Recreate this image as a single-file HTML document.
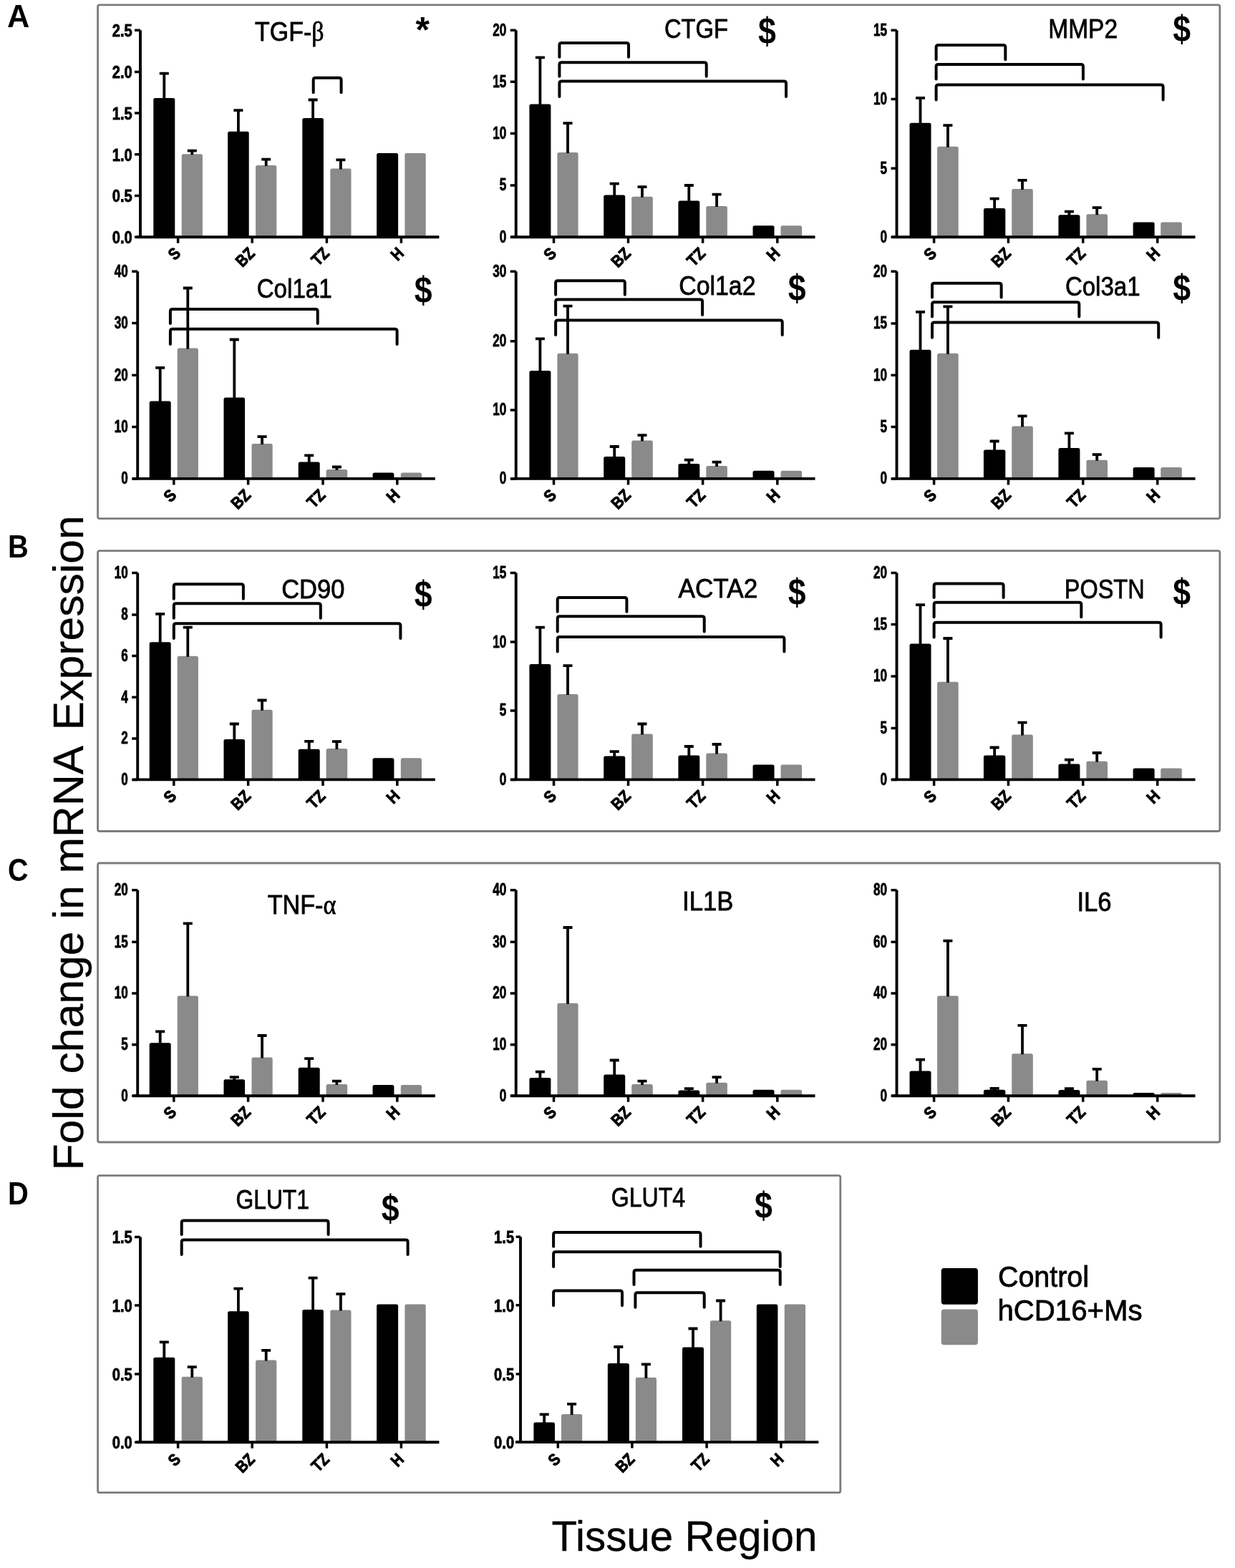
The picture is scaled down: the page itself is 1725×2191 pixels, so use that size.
<!DOCTYPE html>
<html lang="en">
<head>
<meta charset="utf-8">
<title>Fold change in mRNA Expression by Tissue Region</title>
<style>
html,body{margin:0;padding:0;background:#fff}
body{width:1725px;height:2191px;overflow:hidden}
svg{display:block;filter:blur(.55px);font-family:"Liberation Sans","DejaVu Sans",sans-serif}
.a{fill:none;stroke:#000;stroke-width:3.9;stroke-linecap:butt}
.k{fill:none;stroke:#000;stroke-width:3.5}
.e{fill:none;stroke:#000;stroke-width:3.8}
.b{fill:none;stroke:#000;stroke-width:4;stroke-linecap:round}
.p{fill:none;stroke:#7c7c7c;stroke-width:2.8}
.gr{font-family:"Liberation Serif","DejaVu Serif",serif}
.t{font-weight:700;text-anchor:end;fill:#000;stroke:#000;stroke-width:.8px}
.x{font-weight:700;font-size:23px;text-anchor:end;fill:#000;stroke:#000;stroke-width:1px}
.h{fill:#000;stroke:#000;stroke-width:.8px}
.s{font-weight:700;text-anchor:middle;fill:#000}
.B{fill:#000;stroke:#000;stroke-width:.3px}
.L{font-weight:700;font-size:44.3px;fill:#000}
</style>
</head>
<body>
<svg width="1725" height="2191" viewBox="0 0 1725 2191">
<rect width="1725" height="2191" fill="#fff"/>
<rect x="136.6" y="6.8" width="1567.2" height="717.8" rx="2.5" class="p"/><rect x="136.6" y="769.6" width="1567.2" height="391.9" rx="2.5" class="p"/><rect x="136.6" y="1206" width="1567.2" height="390" rx="2.5" class="p"/><rect x="136.6" y="1642.7" width="1037.2" height="443" rx="2.5" class="p"/>
<text transform="translate(10.0 38.4) scale(0.98 1)" class="L">A</text><text transform="translate(11.0 779) scale(0.9 1)" class="L">B</text><text transform="translate(10.9 1230.8) scale(0.89 1)" class="L">C</text><text transform="translate(10.9 1683) scale(0.9 1)" class="L">D</text>
<g><path d="M214.3 331.2V139.4Q214.3 136.9 216.8 136.9H241.8Q244.3 136.9 244.3 139.4V331.2Z" fill="#000"/><path d="M229.3 137.9V102.7M222.8 102.7H235.8" class="e"/><path d="M253.7 331.2V217.7Q253.7 215.2 256.2 215.2H280.4Q282.9 215.2 282.9 217.7V331.2Z" fill="#8a8a8a"/><path d="M268.3 216.2V210.7M261.8 210.7H274.8" class="e"/><path d="M318.1 331.2V186.3Q318.1 183.8 320.6 183.8H345.2Q347.7 183.8 347.7 186.3V331.2Z" fill="#000"/><path d="M332.9 184.8V154.1M326.4 154.1H339.4" class="e"/><path d="M357.1 331.2V233.5Q357.1 231 359.6 231H383.8Q386.3 231 386.3 233.5V331.2Z" fill="#8a8a8a"/><path d="M371.7 232V222.7M365.2 222.7H378.2" class="e"/><path d="M422.3 331.2V167.5Q422.3 165 424.8 165H449.4Q451.9 165 451.9 167.5V331.2Z" fill="#000"/><path d="M437.1 166V139.5M430.6 139.5H443.6" class="e"/><path d="M461.3 331.2V238Q461.3 235.5 463.8 235.5H488Q490.5 235.5 490.5 238V331.2Z" fill="#8a8a8a"/><path d="M475.9 236.5V223.4M469.4 223.4H482.4" class="e"/><path d="M526.1 331.2V216.6Q526.1 214.1 528.6 214.1H553.6Q556.1 214.1 556.1 216.6V331.2Z" fill="#000"/><path d="M565.4 331.2V216.6Q565.4 214.1 567.9 214.1H592.2Q594.7 214.1 594.7 216.6V331.2Z" fill="#8a8a8a"/><path d="M196 42.3V331.2M190.4 331.2H613.4" class="a"/><text transform="translate(184.8 51.2) scale(0.875 1)" class="t" font-size="23">2.5</text><text transform="translate(184.8 109.3) scale(0.875 1)" class="t" font-size="23">2.0</text><text transform="translate(184.8 167) scale(0.875 1)" class="t" font-size="23">1.5</text><text transform="translate(184.8 224.7) scale(0.875 1)" class="t" font-size="23">1.0</text><text transform="translate(184.8 282.4) scale(0.875 1)" class="t" font-size="23">0.5</text><text transform="translate(184.8 340.1) scale(0.875 1)" class="t" font-size="23">0.0</text><path d="M188 42.3H196M188 100.4H196M188 158.1H196M188 215.8H196M188 273.5H196M188 331.2H196" class="k"/><text transform="translate(253.6 355.5) rotate(-45) scale(0.86 1)" class="x">S</text><text transform="translate(357.2 355.5) rotate(-45) scale(0.86 1)" class="x">BZ</text><text transform="translate(461.4 355.5) rotate(-45) scale(0.86 1)" class="x">TZ</text><text transform="translate(565.4 355.5) rotate(-45) scale(0.86 1)" class="x">H</text><path d="M248.6 331.2V339.7M352.2 331.2V339.7M456.4 331.2V339.7M560.4 331.2V339.7" class="k"/><path d="M437.7 129.3V111.7Q437.7 108.7 440.7 108.7H473.6Q476.6 108.7 476.6 111.7V129.3" class="b"/><text x="356.1" y="57.3" class="h" font-size="37.5" textLength="96.4" lengthAdjust="spacingAndGlyphs">TGF-<tspan class="gr">β</tspan></text><text x="590.2" y="58.5" class="s" font-size="50">*</text></g>
<g><path d="M739.4 331.2V148Q739.4 145.5 741.9 145.5H766.9Q769.4 145.5 769.4 148V331.2Z" fill="#000"/><path d="M754.4 146.5V80.3M747.9 80.3H760.9" class="e"/><path d="M778.4 331.2V215.5Q778.4 213 780.9 213H805.1Q807.6 213 807.6 215.5V331.2Z" fill="#8a8a8a"/><path d="M793 214V172.1M786.5 172.1H799.5" class="e"/><path d="M843.2 331.2V275.1Q843.2 272.6 845.7 272.6H870.7Q873.2 272.6 873.2 275.1V331.2Z" fill="#000"/><path d="M858.2 273.6V256.7M851.7 256.7H864.7" class="e"/><path d="M882.2 331.2V277.3Q882.2 274.8 884.7 274.8H909.3Q911.8 274.8 911.8 277.3V331.2Z" fill="#8a8a8a"/><path d="M897 275.8V261.2M890.5 261.2H903.5" class="e"/><path d="M947.4 331.2V282.9Q947.4 280.4 949.9 280.4H974.8Q977.3 280.4 977.3 282.9V331.2Z" fill="#000"/><path d="M962.3 281.4V259M955.8 259H968.8" class="e"/><path d="M986.3 331.2V290.4Q986.3 287.9 988.8 287.9H1013.4Q1015.9 287.9 1015.9 290.4V331.2Z" fill="#8a8a8a"/><path d="M1001.1 288.9V271.7M994.6 271.7H1007.6" class="e"/><path d="M1051.5 331.2V317.8Q1051.5 315.3 1054 315.3H1079Q1081.5 315.3 1081.5 317.8V331.2Z" fill="#000"/><path d="M1090.5 331.2V317.8Q1090.5 315.3 1093 315.3H1117.6Q1120.1 315.3 1120.1 317.8V331.2Z" fill="#8a8a8a"/><path d="M720.7 42.3V331.2M713.5 331.2H1138.5" class="a"/><text transform="translate(707.2 49.7) scale(0.73 1)" class="t" font-size="23.5">20</text><text transform="translate(707.2 121.6) scale(0.73 1)" class="t" font-size="23.5">15</text><text transform="translate(707.2 193.9) scale(0.73 1)" class="t" font-size="23.5">10</text><text transform="translate(707.2 266.2) scale(0.73 1)" class="t" font-size="23.5">5</text><text transform="translate(707.2 338.6) scale(0.73 1)" class="t" font-size="23.5">0</text><path d="M712.7 42.3H720.7M712.7 114.3H720.7M712.7 186.6H720.7M712.7 258.9H720.7M712.7 331.2H720.7" class="k"/><text transform="translate(778.5 355.5) rotate(-45) scale(0.9 1)" class="x">S</text><text transform="translate(882.5 355.5) rotate(-45) scale(0.9 1)" class="x">BZ</text><text transform="translate(986.6 355.5) rotate(-45) scale(0.9 1)" class="x">TZ</text><text transform="translate(1090.8 355.5) rotate(-45) scale(0.9 1)" class="x">H</text><path d="M773.5 331.2V339.7M877.5 331.2V339.7M981.6 331.2V339.7M1085.8 331.2V339.7" class="k"/><path d="M781.4 79.8V63Q781.4 60 784.4 60H875Q878 60 878 63V79.8" class="b"/><path d="M781.4 106.8V90.3Q781.4 87.3 784.4 87.3H983.7Q986.7 87.3 986.7 90.3V106.8" class="b"/><path d="M781.4 134.9V116.5Q781.4 113.5 784.4 113.5H1095Q1098 113.5 1098 116.5V134.9" class="b"/><text x="928" y="52.5" class="h" font-size="37.5" textLength="88.9" lengthAdjust="spacingAndGlyphs">CTGF</text><text transform="translate(1071.4 61) scale(0.86 1)" class="s" font-size="52">$</text></g>
<g><path d="M1270.5 331.2V174.3Q1270.5 171.8 1273 171.8H1298Q1300.5 171.8 1300.5 174.3V331.2Z" fill="#000"/><path d="M1285.5 172.8V136.8M1279 136.8H1292" class="e"/><path d="M1309.1 331.2V207.2Q1309.1 204.7 1311.6 204.7H1336.2Q1338.7 204.7 1338.7 207.2V331.2Z" fill="#8a8a8a"/><path d="M1323.9 205.7V175.1M1317.4 175.1H1330.4" class="e"/><path d="M1373.9 331.2V293.4Q1373.9 290.9 1376.4 290.9H1401.8Q1404.3 290.9 1404.3 293.4V331.2Z" fill="#000"/><path d="M1389.1 291.9V277.7M1382.6 277.7H1395.6" class="e"/><path d="M1413.2 331.2V266.4Q1413.2 263.9 1415.7 263.9H1440.3Q1442.8 263.9 1442.8 266.4V331.2Z" fill="#8a8a8a"/><path d="M1428 264.9V251.9M1421.5 251.9H1434.5" class="e"/><path d="M1478.4 331.2V302.8Q1478.4 300.3 1480.9 300.3H1505.9Q1508.4 300.3 1508.4 302.8V331.2Z" fill="#000"/><path d="M1493.4 301.3V295.7M1486.9 295.7H1499.9" class="e"/><path d="M1517.4 331.2V301.7Q1517.4 299.2 1519.9 299.2H1544.5Q1547 299.2 1547 301.7V331.2Z" fill="#8a8a8a"/><path d="M1532.2 300.2V290.1M1525.7 290.1H1538.7" class="e"/><path d="M1582.6 331.2V312.9Q1582.6 310.4 1585.1 310.4H1610.1Q1612.6 310.4 1612.6 312.9V331.2Z" fill="#000"/><path d="M1621.2 331.2V312.9Q1621.2 310.4 1623.7 310.4H1648.3Q1650.8 310.4 1650.8 312.9V331.2Z" fill="#8a8a8a"/><path d="M1252.5 42.3V331.2M1245.4 331.2H1669.5" class="a"/><text transform="translate(1239 49.7) scale(0.73 1)" class="t" font-size="23.5">15</text><text transform="translate(1239 146) scale(0.73 1)" class="t" font-size="23.5">10</text><text transform="translate(1239 242.6) scale(0.73 1)" class="t" font-size="23.5">5</text><text transform="translate(1239 338.6) scale(0.73 1)" class="t" font-size="23.5">0</text><path d="M1244.5 42.3H1252.5M1244.5 138.6H1252.5M1244.5 235.3H1252.5M1244.5 331.2H1252.5" class="k"/><text transform="translate(1309.6 355.5) rotate(-45) scale(0.9 1)" class="x">S</text><text transform="translate(1413.4 355.5) rotate(-45) scale(0.9 1)" class="x">BZ</text><text transform="translate(1517.7 355.5) rotate(-45) scale(0.9 1)" class="x">TZ</text><text transform="translate(1621.7 355.5) rotate(-45) scale(0.9 1)" class="x">H</text><path d="M1304.6 331.2V339.7M1408.4 331.2V339.7M1512.7 331.2V339.7M1616.7 331.2V339.7" class="k"/><path d="M1307.6 83.2V66Q1307.6 63 1310.6 63H1401.3Q1404.3 63 1404.3 66V83.2" class="b"/><path d="M1307.6 110.5V92.9Q1307.6 89.9 1310.6 89.9H1509.9Q1512.9 89.9 1512.9 92.9V110.5" class="b"/><path d="M1307.6 139.4V121.4Q1307.6 118.4 1310.6 118.4H1621.6Q1624.6 118.4 1624.6 121.4V139.4" class="b"/><text x="1464.3" y="52.5" class="h" font-size="37.5" textLength="96.8" lengthAdjust="spacingAndGlyphs">MMP2</text><text transform="translate(1650.8 58.4) scale(0.86 1)" class="s" font-size="52">$</text></g>
<g><path d="M208.7 668.9V562.9Q208.7 560.4 211.2 560.4H236.2Q238.7 560.4 238.7 562.9V668.9Z" fill="#000"/><path d="M223.7 561.4V513.8M217.2 513.8H230.2" class="e"/><path d="M247.7 668.9V489Q247.7 486.5 250.2 486.5H274.4Q276.9 486.5 276.9 489V668.9Z" fill="#8a8a8a"/><path d="M262.3 487.5V402.5M255.8 402.5H268.8" class="e"/><path d="M312.5 668.9V558Q312.5 555.5 315 555.5H339.6Q342.1 555.5 342.1 558V668.9Z" fill="#000"/><path d="M327.3 556.5V474.5M320.8 474.5H333.8" class="e"/><path d="M351.5 668.9V622.4Q351.5 619.9 354 619.9H378.2Q380.7 619.9 380.7 622.4V668.9Z" fill="#8a8a8a"/><path d="M366.1 620.9V610.1M359.6 610.1H372.6" class="e"/><path d="M416.7 668.9V647.9Q416.7 645.4 419.2 645.4H444.2Q446.7 645.4 446.7 647.9V668.9Z" fill="#000"/><path d="M431.7 646.4V636.4M425.2 636.4H438.2" class="e"/><path d="M455.6 668.9V658.4Q455.6 655.9 458.1 655.9H482.7Q485.2 655.9 485.2 658.4V668.9Z" fill="#8a8a8a"/><path d="M470.4 656.9V652.5M463.9 652.5H476.9" class="e"/><path d="M520.5 668.9V662.9Q520.5 660.4 523 660.4H547.9Q550.4 660.4 550.4 662.9V668.9Z" fill="#000"/><path d="M559.8 668.9V662.9Q559.8 660.4 562.3 660.4H586.5Q589 660.4 589 662.9V668.9Z" fill="#8a8a8a"/><path d="M192.2 379.2V668.9M185.5 668.9H607.8" class="a"/><text transform="translate(178.7 386.6) scale(0.73 1)" class="t" font-size="23.5">40</text><text transform="translate(178.7 458.9) scale(0.73 1)" class="t" font-size="23.5">30</text><text transform="translate(178.7 531.6) scale(0.73 1)" class="t" font-size="23.5">20</text><text transform="translate(178.7 603.9) scale(0.73 1)" class="t" font-size="23.5">10</text><text transform="translate(178.7 676.2) scale(0.73 1)" class="t" font-size="23.5">0</text><path d="M184.2 379.2H192.2M184.2 451.5H192.2M184.2 524.2H192.2M184.2 596.6H192.2M184.2 668.9H192.2" class="k"/><text transform="translate(247.8 693.2) rotate(-45) scale(0.9 1)" class="x">S</text><text transform="translate(351.6 693.2) rotate(-45) scale(0.9 1)" class="x">BZ</text><text transform="translate(456 693.2) rotate(-45) scale(0.9 1)" class="x">TZ</text><text transform="translate(559.8 693.2) rotate(-45) scale(0.9 1)" class="x">H</text><path d="M242.8 668.9V677.4M346.6 668.9V677.4M451 668.9V677.4M554.8 668.9V677.4" class="k"/><path d="M237.9 451.9V435.1Q237.9 432.1 240.9 432.1H440.7Q443.7 432.1 443.7 435.1V451.9" class="b"/><path d="M237.9 481.1V462.8Q237.9 459.8 240.9 459.8H551.6Q554.6 459.8 554.6 462.8V481.1" class="b"/><text x="358.7" y="415.6" class="h" font-size="37.5" textLength="105" lengthAdjust="spacingAndGlyphs">Col1a1</text><text transform="translate(591.3 423.4) scale(0.86 1)" class="s" font-size="52">$</text></g>
<g><path d="M739.4 668.9V520.5Q739.4 518 741.9 518H766.9Q769.4 518 769.4 520.5V668.9Z" fill="#000"/><path d="M754.4 519V473.4M747.9 473.4H760.9" class="e"/><path d="M778.4 668.9V496.2Q778.4 493.7 780.9 493.7H805.1Q807.6 493.7 807.6 496.2V668.9Z" fill="#8a8a8a"/><path d="M793 494.7V427.6M786.5 427.6H799.5" class="e"/><path d="M843.2 668.9V640.4Q843.2 637.9 845.7 637.9H870.7Q873.2 637.9 873.2 640.4V668.9Z" fill="#000"/><path d="M858.2 638.9V624M851.7 624H864.7" class="e"/><path d="M882.2 668.9V617.9Q882.2 615.4 884.7 615.4H909.3Q911.8 615.4 911.8 617.9V668.9Z" fill="#8a8a8a"/><path d="M897 616.4V608.2M890.5 608.2H903.5" class="e"/><path d="M947.4 668.9V650.5Q947.4 648 949.9 648H974.8Q977.3 648 977.3 650.5V668.9Z" fill="#000"/><path d="M962.3 649V642.7M955.8 642.7H968.8" class="e"/><path d="M986.3 668.9V653.5Q986.3 651 988.8 651H1013.4Q1015.9 651 1015.9 653.5V668.9Z" fill="#8a8a8a"/><path d="M1001.1 652V645.7M994.6 645.7H1007.6" class="e"/><path d="M1051.5 668.9V660.3Q1051.5 657.8 1054 657.8H1079Q1081.5 657.8 1081.5 660.3V668.9Z" fill="#000"/><path d="M1090.5 668.9V660.3Q1090.5 657.8 1093 657.8H1117.6Q1120.1 657.8 1120.1 660.3V668.9Z" fill="#8a8a8a"/><path d="M720.7 379.2V668.9M713.5 668.9H1138.5" class="a"/><text transform="translate(707.2 386.6) scale(0.73 1)" class="t" font-size="23.5">30</text><text transform="translate(707.2 484) scale(0.73 1)" class="t" font-size="23.5">20</text><text transform="translate(707.2 580.3) scale(0.73 1)" class="t" font-size="23.5">10</text><text transform="translate(707.2 676.2) scale(0.73 1)" class="t" font-size="23.5">0</text><path d="M712.7 379.2H720.7M712.7 476.7H720.7M712.7 573H720.7M712.7 668.9H720.7" class="k"/><text transform="translate(778.5 693.2) rotate(-45) scale(0.9 1)" class="x">S</text><text transform="translate(882.5 693.2) rotate(-45) scale(0.9 1)" class="x">BZ</text><text transform="translate(986.6 693.2) rotate(-45) scale(0.9 1)" class="x">TZ</text><text transform="translate(1090.8 693.2) rotate(-45) scale(0.9 1)" class="x">H</text><path d="M773.5 668.9V677.4M877.5 668.9V677.4M981.6 668.9V677.4M1085.8 668.9V677.4" class="k"/><path d="M776.1 411.8V395.3Q776.1 392.3 779.1 392.3H869.8Q872.8 392.3 872.8 395.3V411.8" class="b"/><path d="M776.1 439.9V421.6Q776.1 418.6 779.1 418.6H978.1Q981.1 418.6 981.1 421.6V439.9" class="b"/><path d="M776.1 468V450.4Q776.1 447.4 779.1 447.4H1089.7Q1092.7 447.4 1092.7 450.4V468" class="b"/><text x="948.2" y="412.2" class="h" font-size="37.5" textLength="107.3" lengthAdjust="spacingAndGlyphs">Col1a2</text><text transform="translate(1113.3 419.6) scale(0.86 1)" class="s" font-size="52">$</text></g>
<g><path d="M1270.5 668.9V491.3Q1270.5 488.8 1273 488.8H1298Q1300.5 488.8 1300.5 491.3V668.9Z" fill="#000"/><path d="M1285.5 489.8V435.9M1279 435.9H1292" class="e"/><path d="M1309.1 668.9V496.2Q1309.1 493.7 1311.6 493.7H1336.2Q1338.7 493.7 1338.7 496.2V668.9Z" fill="#8a8a8a"/><path d="M1323.9 494.7V428.4M1317.4 428.4H1330.4" class="e"/><path d="M1373.9 668.9V631.1Q1373.9 628.6 1376.4 628.6H1401.8Q1404.3 628.6 1404.3 631.1V668.9Z" fill="#000"/><path d="M1389.1 629.6V616.5M1382.6 616.5H1395.6" class="e"/><path d="M1413.2 668.9V598.1Q1413.2 595.6 1415.7 595.6H1440.3Q1442.8 595.6 1442.8 598.1V668.9Z" fill="#8a8a8a"/><path d="M1428 596.6V581.3M1421.5 581.3H1434.5" class="e"/><path d="M1478.4 668.9V628.4Q1478.4 625.9 1480.9 625.9H1505.9Q1508.4 625.9 1508.4 628.4V668.9Z" fill="#000"/><path d="M1493.4 626.9V605.3M1486.9 605.3H1499.9" class="e"/><path d="M1517.4 668.9V645.3Q1517.4 642.8 1519.9 642.8H1544.5Q1547 642.8 1547 645.3V668.9Z" fill="#8a8a8a"/><path d="M1532.2 643.8V635.2M1525.7 635.2H1538.7" class="e"/><path d="M1582.6 668.9V655.4Q1582.6 652.9 1585.1 652.9H1610.1Q1612.6 652.9 1612.6 655.4V668.9Z" fill="#000"/><path d="M1621.2 668.9V655.4Q1621.2 652.9 1623.7 652.9H1648.3Q1650.8 652.9 1650.8 655.4V668.9Z" fill="#8a8a8a"/><path d="M1252.5 379.2V668.9M1245.4 668.9H1669.5" class="a"/><text transform="translate(1239 386.6) scale(0.73 1)" class="t" font-size="23.5">20</text><text transform="translate(1239 459.2) scale(0.73 1)" class="t" font-size="23.5">15</text><text transform="translate(1239 531.6) scale(0.73 1)" class="t" font-size="23.5">10</text><text transform="translate(1239 603.9) scale(0.73 1)" class="t" font-size="23.5">5</text><text transform="translate(1239 676.2) scale(0.73 1)" class="t" font-size="23.5">0</text><path d="M1244.5 379.2H1252.5M1244.5 451.9H1252.5M1244.5 524.2H1252.5M1244.5 596.6H1252.5M1244.5 668.9H1252.5" class="k"/><text transform="translate(1309.6 693.2) rotate(-45) scale(0.9 1)" class="x">S</text><text transform="translate(1413.4 693.2) rotate(-45) scale(0.9 1)" class="x">BZ</text><text transform="translate(1517.7 693.2) rotate(-45) scale(0.9 1)" class="x">TZ</text><text transform="translate(1621.7 693.2) rotate(-45) scale(0.9 1)" class="x">H</text><path d="M1304.6 668.9V677.4M1408.4 668.9V677.4M1512.7 668.9V677.4M1616.7 668.9V677.4" class="k"/><path d="M1302 415.6V398.7Q1302 395.7 1305 395.7H1395.6Q1398.6 395.7 1398.6 398.7V415.6" class="b"/><path d="M1302 442.6V425.3Q1302 422.3 1305 422.3H1504.3Q1507.3 422.3 1507.3 425.3V442.6" class="b"/><path d="M1302 471.8V453.4Q1302 450.4 1305 450.4H1615.2Q1618.2 450.4 1618.2 453.4V471.8" class="b"/><text x="1487.9" y="412.6" class="h" font-size="37.5" textLength="104.7" lengthAdjust="spacingAndGlyphs">Col3a1</text><text transform="translate(1650.8 420.2) scale(0.86 1)" class="s" font-size="52">$</text></g>
<g><path d="M208.7 1089.4V899.8Q208.7 897.3 211.2 897.3H236.2Q238.7 897.3 238.7 899.8V1089.4Z" fill="#000"/><path d="M223.7 898.3V857.9M217.2 857.9H230.2" class="e"/><path d="M247.7 1089.4V919.3Q247.7 916.8 250.2 916.8H274.4Q276.9 916.8 276.9 919.3V1089.4Z" fill="#8a8a8a"/><path d="M262.3 917.8V876.6M255.8 876.6H268.8" class="e"/><path d="M312.5 1089.4V1035.4Q312.5 1032.9 315 1032.9H339.6Q342.1 1032.9 342.1 1035.4V1089.4Z" fill="#000"/><path d="M327.3 1033.9V1011.5M320.8 1011.5H333.8" class="e"/><path d="M351.5 1089.4V994.2Q351.5 991.7 354 991.7H378.2Q380.7 991.7 380.7 994.2V1089.4Z" fill="#8a8a8a"/><path d="M366.1 992.7V978.5M359.6 978.5H372.6" class="e"/><path d="M416.7 1089.4V1049.3Q416.7 1046.8 419.2 1046.8H444.2Q446.7 1046.8 446.7 1049.3V1089.4Z" fill="#000"/><path d="M431.7 1047.8V1035.9M425.2 1035.9H438.2" class="e"/><path d="M455.6 1089.4V1048.6Q455.6 1046.1 458.1 1046.1H482.7Q485.2 1046.1 485.2 1048.6V1089.4Z" fill="#8a8a8a"/><path d="M470.4 1047.1V1036.2M463.9 1036.2H476.9" class="e"/><path d="M520.5 1089.4V1061.7Q520.5 1059.2 523 1059.2H547.9Q550.4 1059.2 550.4 1061.7V1089.4Z" fill="#000"/><path d="M559.8 1089.4V1061.7Q559.8 1059.2 562.3 1059.2H586.5Q589 1059.2 589 1061.7V1089.4Z" fill="#8a8a8a"/><path d="M192.2 800.5V1089.4M185.5 1089.4H607.8" class="a"/><text transform="translate(178.7 807.8) scale(0.73 1)" class="t" font-size="23.5">10</text><text transform="translate(178.7 866.2) scale(0.73 1)" class="t" font-size="23.5">8</text><text transform="translate(178.7 924) scale(0.73 1)" class="t" font-size="23.5">6</text><text transform="translate(178.7 981.7) scale(0.73 1)" class="t" font-size="23.5">4</text><text transform="translate(178.7 1039.4) scale(0.73 1)" class="t" font-size="23.5">2</text><text transform="translate(178.7 1096.7) scale(0.73 1)" class="t" font-size="23.5">0</text><path d="M184.2 800.5H192.2M184.2 858.9H192.2M184.2 916.6H192.2M184.2 974.3H192.2M184.2 1032H192.2M184.2 1089.4H192.2" class="k"/><text transform="translate(247.8 1113.7) rotate(-45) scale(0.9 1)" class="x">S</text><text transform="translate(351.6 1113.7) rotate(-45) scale(0.9 1)" class="x">BZ</text><text transform="translate(456 1113.7) rotate(-45) scale(0.9 1)" class="x">TZ</text><text transform="translate(559.8 1113.7) rotate(-45) scale(0.9 1)" class="x">H</text><path d="M242.8 1089.4V1097.9M346.6 1089.4V1097.9M451 1089.4V1097.9M554.8 1089.4V1097.9" class="k"/><path d="M242.8 836.8V819.2Q242.8 816.2 245.8 816.2H336.9Q339.9 816.2 339.9 819.2V836.8" class="b"/><path d="M242.8 863.8V846.2Q242.8 843.2 245.8 843.2H444.8Q447.8 843.2 447.8 846.2V863.8" class="b"/><path d="M242.8 891.9V874.3Q242.8 871.3 245.8 871.3H556.4Q559.4 871.3 559.4 874.3V891.9" class="b"/><text x="393.2" y="836.1" class="h" font-size="37.5" textLength="88.2" lengthAdjust="spacingAndGlyphs">CD90</text><text transform="translate(591.3 848.4) scale(0.86 1)" class="s" font-size="52">$</text></g>
<g><path d="M739.4 1089.4V930.5Q739.4 928 741.9 928H766.9Q769.4 928 769.4 930.5V1089.4Z" fill="#000"/><path d="M754.4 929V876.6M747.9 876.6H760.9" class="e"/><path d="M778.4 1089.4V972.5Q778.4 970 780.9 970H805.1Q807.6 970 807.6 972.5V1089.4Z" fill="#8a8a8a"/><path d="M793 971V930.2M786.5 930.2H799.5" class="e"/><path d="M843.2 1089.4V1059Q843.2 1056.5 845.7 1056.5H870.7Q873.2 1056.5 873.2 1059V1089.4Z" fill="#000"/><path d="M858.2 1057.5V1050.1M851.7 1050.1H864.7" class="e"/><path d="M882.2 1089.4V1027.9Q882.2 1025.4 884.7 1025.4H909.3Q911.8 1025.4 911.8 1027.9V1089.4Z" fill="#8a8a8a"/><path d="M897 1026.4V1011.5M890.5 1011.5H903.5" class="e"/><path d="M947.4 1089.4V1057.9Q947.4 1055.4 949.9 1055.4H974.8Q977.3 1055.4 977.3 1057.9V1089.4Z" fill="#000"/><path d="M962.3 1056.4V1043M955.8 1043H968.8" class="e"/><path d="M986.3 1089.4V1054.9Q986.3 1052.4 988.8 1052.4H1013.4Q1015.9 1052.4 1015.9 1054.9V1089.4Z" fill="#8a8a8a"/><path d="M1001.1 1053.4V1040M994.6 1040H1007.6" class="e"/><path d="M1051.5 1089.4V1071Q1051.5 1068.5 1054 1068.5H1079Q1081.5 1068.5 1081.5 1071V1089.4Z" fill="#000"/><path d="M1090.5 1089.4V1071Q1090.5 1068.5 1093 1068.5H1117.6Q1120.1 1068.5 1120.1 1071V1089.4Z" fill="#8a8a8a"/><path d="M720.7 800.5V1089.4M713.5 1089.4H1138.5" class="a"/><text transform="translate(707.2 807.8) scale(0.73 1)" class="t" font-size="23.5">15</text><text transform="translate(707.2 904.5) scale(0.73 1)" class="t" font-size="23.5">10</text><text transform="translate(707.2 1000.4) scale(0.73 1)" class="t" font-size="23.5">5</text><text transform="translate(707.2 1096.7) scale(0.73 1)" class="t" font-size="23.5">0</text><path d="M712.7 800.5H720.7M712.7 897.1H720.7M712.7 993.1H720.7M712.7 1089.4H720.7" class="k"/><text transform="translate(778.5 1113.7) rotate(-45) scale(0.9 1)" class="x">S</text><text transform="translate(882.5 1113.7) rotate(-45) scale(0.9 1)" class="x">BZ</text><text transform="translate(986.6 1113.7) rotate(-45) scale(0.9 1)" class="x">TZ</text><text transform="translate(1090.8 1113.7) rotate(-45) scale(0.9 1)" class="x">H</text><path d="M773.5 1089.4V1097.9M877.5 1089.4V1097.9M981.6 1089.4V1097.9M1085.8 1089.4V1097.9" class="k"/><path d="M778.7 854.8V837.9Q778.7 834.9 781.7 834.9H872.4Q875.4 834.9 875.4 837.9V854.8" class="b"/><path d="M778.7 882.5V864.2Q778.7 861.2 781.7 861.2H980.7Q983.7 861.2 983.7 864.2V882.5" class="b"/><path d="M778.7 910.6V893Q778.7 890 781.7 890H1092.4Q1095.4 890 1095.4 893V910.6" class="b"/><text x="947.5" y="835.3" class="h" font-size="37.5" textLength="110.7" lengthAdjust="spacingAndGlyphs">ACTA2</text><text transform="translate(1113.3 844.8) scale(0.86 1)" class="s" font-size="52">$</text></g>
<g><path d="M1270.5 1089.4V902Q1270.5 899.5 1273 899.5H1298Q1300.5 899.5 1300.5 902V1089.4Z" fill="#000"/><path d="M1285.5 900.5V845.1M1279 845.1H1292" class="e"/><path d="M1309.1 1089.4V955.2Q1309.1 952.7 1311.6 952.7H1336.2Q1338.7 952.7 1338.7 955.2V1089.4Z" fill="#8a8a8a"/><path d="M1323.9 953.7V892M1317.4 892H1330.4" class="e"/><path d="M1373.9 1089.4V1057.9Q1373.9 1055.4 1376.4 1055.4H1401.8Q1404.3 1055.4 1404.3 1057.9V1089.4Z" fill="#000"/><path d="M1389.1 1056.4V1044.5M1382.6 1044.5H1395.6" class="e"/><path d="M1413.2 1089.4V1029.1Q1413.2 1026.6 1415.7 1026.6H1440.3Q1442.8 1026.6 1442.8 1029.1V1089.4Z" fill="#8a8a8a"/><path d="M1428 1027.6V1009.6M1421.5 1009.6H1434.5" class="e"/><path d="M1478.4 1089.4V1069.9Q1478.4 1067.4 1480.9 1067.4H1505.9Q1508.4 1067.4 1508.4 1069.9V1089.4Z" fill="#000"/><path d="M1493.4 1068.4V1061.7M1486.9 1061.7H1499.9" class="e"/><path d="M1517.4 1089.4V1066.2Q1517.4 1063.7 1519.9 1063.7H1544.5Q1547 1063.7 1547 1066.2V1089.4Z" fill="#8a8a8a"/><path d="M1532.2 1064.7V1052M1525.7 1052H1538.7" class="e"/><path d="M1582.6 1089.4V1075.9Q1582.6 1073.4 1585.1 1073.4H1610.1Q1612.6 1073.4 1612.6 1075.9V1089.4Z" fill="#000"/><path d="M1621.2 1089.4V1075.9Q1621.2 1073.4 1623.7 1073.4H1648.3Q1650.8 1073.4 1650.8 1075.9V1089.4Z" fill="#8a8a8a"/><path d="M1252.5 800.5V1089.4M1245.4 1089.4H1669.5" class="a"/><text transform="translate(1239 807.8) scale(0.73 1)" class="t" font-size="23.5">20</text><text transform="translate(1239 879.7) scale(0.73 1)" class="t" font-size="23.5">15</text><text transform="translate(1239 952.4) scale(0.73 1)" class="t" font-size="23.5">10</text><text transform="translate(1239 1024.7) scale(0.73 1)" class="t" font-size="23.5">5</text><text transform="translate(1239 1096.7) scale(0.73 1)" class="t" font-size="23.5">0</text><path d="M1244.5 800.5H1252.5M1244.5 872.4H1252.5M1244.5 945.1H1252.5M1244.5 1017.4H1252.5M1244.5 1089.4H1252.5" class="k"/><text transform="translate(1309.6 1113.7) rotate(-45) scale(0.9 1)" class="x">S</text><text transform="translate(1413.4 1113.7) rotate(-45) scale(0.9 1)" class="x">BZ</text><text transform="translate(1517.7 1113.7) rotate(-45) scale(0.9 1)" class="x">TZ</text><text transform="translate(1621.7 1113.7) rotate(-45) scale(0.9 1)" class="x">H</text><path d="M1304.6 1089.4V1097.9M1408.4 1089.4V1097.9M1512.7 1089.4V1097.9M1616.7 1089.4V1097.9" class="k"/><path d="M1304.6 834.9V818.5Q1304.6 815.5 1307.6 815.5H1398.6Q1401.6 815.5 1401.6 818.5V834.9" class="b"/><path d="M1304.6 862.3V844.7Q1304.6 841.7 1307.6 841.7H1507.3Q1510.3 841.7 1510.3 844.7V862.3" class="b"/><path d="M1304.6 890.4V872.8Q1304.6 869.8 1307.6 869.8H1618.6Q1621.6 869.8 1621.6 872.8V890.4" class="b"/><text x="1486.8" y="836.1" class="h" font-size="37.5" textLength="111.8" lengthAdjust="spacingAndGlyphs">POSTN</text><text transform="translate(1650.8 845.2) scale(0.86 1)" class="s" font-size="52">$</text></g>
<g><path d="M208.7 1531.2V1459.7Q208.7 1457.2 211.2 1457.2H236.2Q238.7 1457.2 238.7 1459.7V1531.2Z" fill="#000"/><path d="M223.7 1458.2V1441.4M217.2 1441.4H230.2" class="e"/><path d="M247.7 1531.2V1394.1Q247.7 1391.6 250.2 1391.6H274.4Q276.9 1391.6 276.9 1394.1V1531.2Z" fill="#8a8a8a"/><path d="M262.3 1392.6V1290.4M255.8 1290.4H268.8" class="e"/><path d="M312.5 1531.2V1510.7Q312.5 1508.2 315 1508.2H339.6Q342.1 1508.2 342.1 1510.7V1531.2Z" fill="#000"/><path d="M327.3 1509.2V1505.1M320.8 1505.1H333.8" class="e"/><path d="M351.5 1531.2V1479.9Q351.5 1477.4 354 1477.4H378.2Q380.7 1477.4 380.7 1479.9V1531.2Z" fill="#8a8a8a"/><path d="M366.1 1478.4V1447M359.6 1447H372.6" class="e"/><path d="M416.7 1531.2V1494.2Q416.7 1491.7 419.2 1491.7H444.2Q446.7 1491.7 446.7 1494.2V1531.2Z" fill="#000"/><path d="M431.7 1492.7V1479.2M425.2 1479.2H438.2" class="e"/><path d="M455.6 1531.2V1517.4Q455.6 1514.9 458.1 1514.9H482.7Q485.2 1514.9 485.2 1517.4V1531.2Z" fill="#8a8a8a"/><path d="M470.4 1515.9V1510.7M463.9 1510.7H476.9" class="e"/><path d="M520.5 1531.2V1518.5Q520.5 1516 523 1516H547.9Q550.4 1516 550.4 1518.5V1531.2Z" fill="#000"/><path d="M559.8 1531.2V1518.5Q559.8 1516 562.3 1516H586.5Q589 1516 589 1518.5V1531.2Z" fill="#8a8a8a"/><path d="M192.2 1243.8V1531.2M185.5 1531.2H607.8" class="a"/><text transform="translate(178.7 1251.2) scale(0.73 1)" class="t" font-size="23.5">20</text><text transform="translate(178.7 1323.5) scale(0.73 1)" class="t" font-size="23.5">15</text><text transform="translate(178.7 1395.4) scale(0.73 1)" class="t" font-size="23.5">10</text><text transform="translate(178.7 1467) scale(0.73 1)" class="t" font-size="23.5">5</text><text transform="translate(178.7 1538.6) scale(0.73 1)" class="t" font-size="23.5">0</text><path d="M184.2 1243.8H192.2M184.2 1316.2H192.2M184.2 1388.1H192.2M184.2 1459.7H192.2M184.2 1531.2H192.2" class="k"/><text transform="translate(247.8 1555.5) rotate(-45) scale(0.9 1)" class="x">S</text><text transform="translate(351.6 1555.5) rotate(-45) scale(0.9 1)" class="x">BZ</text><text transform="translate(456 1555.5) rotate(-45) scale(0.9 1)" class="x">TZ</text><text transform="translate(559.8 1555.5) rotate(-45) scale(0.9 1)" class="x">H</text><path d="M242.8 1531.2V1539.7M346.6 1531.2V1539.7M451 1531.2V1539.7M554.8 1531.2V1539.7" class="k"/><text x="373.7" y="1276.8" class="h" font-size="37.5" textLength="95.7" lengthAdjust="spacingAndGlyphs">TNF-<tspan class="gr">α</tspan></text></g>
<g><path d="M739.4 1531.2V1508.4Q739.4 1505.9 741.9 1505.9H766.9Q769.4 1505.9 769.4 1508.4V1531.2Z" fill="#000"/><path d="M754.4 1506.9V1497.6M747.9 1497.6H760.9" class="e"/><path d="M778.4 1531.2V1404.2Q778.4 1401.7 780.9 1401.7H805.1Q807.6 1401.7 807.6 1404.2V1531.2Z" fill="#8a8a8a"/><path d="M793 1402.7V1296M786.5 1296H799.5" class="e"/><path d="M843.2 1531.2V1503.9Q843.2 1501.4 845.7 1501.4H870.7Q873.2 1501.4 873.2 1503.9V1531.2Z" fill="#000"/><path d="M858.2 1502.4V1481.5M851.7 1481.5H864.7" class="e"/><path d="M882.2 1531.2V1517.4Q882.2 1514.9 884.7 1514.9H909.3Q911.8 1514.9 911.8 1517.4V1531.2Z" fill="#8a8a8a"/><path d="M897 1515.9V1510.7M890.5 1510.7H903.5" class="e"/><path d="M947.4 1531.2V1526Q947.4 1523.5 949.9 1523.5H974.8Q977.3 1523.5 977.3 1526V1531.2Z" fill="#000"/><path d="M962.3 1524.5V1521.2M955.8 1521.2H968.8" class="e"/><path d="M986.3 1531.2V1515.2Q986.3 1512.7 988.8 1512.7H1013.4Q1015.9 1512.7 1015.9 1515.2V1531.2Z" fill="#8a8a8a"/><path d="M1001.1 1513.7V1505.1M994.6 1505.1H1007.6" class="e"/><path d="M1051.5 1531.2V1525.3Q1051.5 1522.8 1054 1522.8H1079Q1081.5 1522.8 1081.5 1525.3V1531.2Z" fill="#000"/><path d="M1090.5 1531.2V1525.3Q1090.5 1522.8 1093 1522.8H1117.6Q1120.1 1522.8 1120.1 1525.3V1531.2Z" fill="#8a8a8a"/><path d="M720.7 1243.8V1531.2M713.5 1531.2H1138.5" class="a"/><text transform="translate(707.2 1251.2) scale(0.73 1)" class="t" font-size="23.5">40</text><text transform="translate(707.2 1323.5) scale(0.73 1)" class="t" font-size="23.5">30</text><text transform="translate(707.2 1395.4) scale(0.73 1)" class="t" font-size="23.5">20</text><text transform="translate(707.2 1467) scale(0.73 1)" class="t" font-size="23.5">10</text><text transform="translate(707.2 1538.6) scale(0.73 1)" class="t" font-size="23.5">0</text><path d="M712.7 1243.8H720.7M712.7 1316.2H720.7M712.7 1388.1H720.7M712.7 1459.7H720.7M712.7 1531.2H720.7" class="k"/><text transform="translate(778.5 1555.5) rotate(-45) scale(0.9 1)" class="x">S</text><text transform="translate(882.5 1555.5) rotate(-45) scale(0.9 1)" class="x">BZ</text><text transform="translate(986.6 1555.5) rotate(-45) scale(0.9 1)" class="x">TZ</text><text transform="translate(1090.8 1555.5) rotate(-45) scale(0.9 1)" class="x">H</text><path d="M773.5 1531.2V1539.7M877.5 1531.2V1539.7M981.6 1531.2V1539.7M1085.8 1531.2V1539.7" class="k"/><text x="953.1" y="1272.3" class="h" font-size="37.5" textLength="71.3" lengthAdjust="spacingAndGlyphs">IL1B</text></g>
<g><path d="M1270.5 1531.2V1499Q1270.5 1496.5 1273 1496.5H1298Q1300.5 1496.5 1300.5 1499V1531.2Z" fill="#000"/><path d="M1285.5 1497.5V1480.7M1279 1480.7H1292" class="e"/><path d="M1309.1 1531.2V1394.1Q1309.1 1391.6 1311.6 1391.6H1336.2Q1338.7 1391.6 1338.7 1394.1V1531.2Z" fill="#8a8a8a"/><path d="M1323.9 1392.6V1314.7M1317.4 1314.7H1330.4" class="e"/><path d="M1373.9 1531.2V1525.3Q1373.9 1522.8 1376.4 1522.8H1401.8Q1404.3 1522.8 1404.3 1525.3V1531.2Z" fill="#000"/><path d="M1389.1 1523.8V1520.8M1382.6 1520.8H1395.6" class="e"/><path d="M1413.2 1531.2V1474.7Q1413.2 1472.2 1415.7 1472.2H1440.3Q1442.8 1472.2 1442.8 1474.7V1531.2Z" fill="#8a8a8a"/><path d="M1428 1473.2V1432.8M1421.5 1432.8H1434.5" class="e"/><path d="M1478.4 1531.2V1525.6Q1478.4 1523.1 1480.9 1523.1H1505.9Q1508.4 1523.1 1508.4 1525.6V1531.2Z" fill="#000"/><path d="M1493.4 1524.1V1521.2M1486.9 1521.2H1499.9" class="e"/><path d="M1517.4 1531.2V1512.2Q1517.4 1509.7 1519.9 1509.7H1544.5Q1547 1509.7 1547 1512.2V1531.2Z" fill="#8a8a8a"/><path d="M1532.2 1510.7V1493.8M1525.7 1493.8H1538.7" class="e"/><path d="M1582.6 1531.2V1529.1Q1582.6 1526.9 1584.8 1526.9H1610.4Q1612.6 1526.9 1612.6 1529.1V1531.2Z" fill="#000"/><path d="M1621.2 1531.2V1529.1Q1621.2 1526.9 1623.4 1526.9H1648.6Q1650.8 1526.9 1650.8 1529.1V1531.2Z" fill="#8a8a8a"/><path d="M1252.5 1243.8V1531.2M1245.4 1531.2H1669.5" class="a"/><text transform="translate(1239 1251.2) scale(0.73 1)" class="t" font-size="23.5">80</text><text transform="translate(1239 1323.5) scale(0.73 1)" class="t" font-size="23.5">60</text><text transform="translate(1239 1395.4) scale(0.73 1)" class="t" font-size="23.5">40</text><text transform="translate(1239 1467) scale(0.73 1)" class="t" font-size="23.5">20</text><text transform="translate(1239 1538.6) scale(0.73 1)" class="t" font-size="23.5">0</text><path d="M1244.5 1243.8H1252.5M1244.5 1316.2H1252.5M1244.5 1388.1H1252.5M1244.5 1459.7H1252.5M1244.5 1531.2H1252.5" class="k"/><text transform="translate(1309.6 1555.5) rotate(-45) scale(0.9 1)" class="x">S</text><text transform="translate(1413.4 1555.5) rotate(-45) scale(0.9 1)" class="x">BZ</text><text transform="translate(1517.7 1555.5) rotate(-45) scale(0.9 1)" class="x">TZ</text><text transform="translate(1621.7 1555.5) rotate(-45) scale(0.9 1)" class="x">H</text><path d="M1304.6 1531.2V1539.7M1408.4 1531.2V1539.7M1512.7 1531.2V1539.7M1616.7 1531.2V1539.7" class="k"/><text x="1504.4" y="1273.1" class="h" font-size="37.5" textLength="48.1" lengthAdjust="spacingAndGlyphs">IL6</text></g>
<g><path d="M214.3 2015.3V1899.2Q214.3 1896.7 216.8 1896.7H241.8Q244.3 1896.7 244.3 1899.2V2015.3Z" fill="#000"/><path d="M229.3 1897.7V1875.3M222.8 1875.3H235.8" class="e"/><path d="M253.7 2015.3V1926.2Q253.7 1923.7 256.2 1923.7H280.4Q282.9 1923.7 282.9 1926.2V2015.3Z" fill="#8a8a8a"/><path d="M268.3 1924.7V1910.1M261.8 1910.1H274.8" class="e"/><path d="M318.1 2015.3V1834.7Q318.1 1832.2 320.6 1832.2H345.2Q347.7 1832.2 347.7 1834.7V2015.3Z" fill="#000"/><path d="M332.9 1833.2V1800.7M326.4 1800.7H339.4" class="e"/><path d="M357.1 2015.3V1902.9Q357.1 1900.4 359.6 1900.4H383.8Q386.3 1900.4 386.3 1902.9V2015.3Z" fill="#8a8a8a"/><path d="M371.7 1901.4V1886.9M365.2 1886.9H378.2" class="e"/><path d="M422.3 2015.3V1832.5Q422.3 1830 424.8 1830H449.4Q451.9 1830 451.9 1832.5V2015.3Z" fill="#000"/><path d="M437.1 1831V1785.7M430.6 1785.7H443.6" class="e"/><path d="M461.3 2015.3V1832.9Q461.3 1830.4 463.8 1830.4H488Q490.5 1830.4 490.5 1832.9V2015.3Z" fill="#8a8a8a"/><path d="M475.9 1831.4V1808.2M469.4 1808.2H482.4" class="e"/><path d="M526.1 2015.3V1825Q526.1 1822.5 528.6 1822.5H553.6Q556.1 1822.5 556.1 1825V2015.3Z" fill="#000"/><path d="M565.4 2015.3V1825Q565.4 1822.5 567.9 1822.5H592.2Q594.7 1822.5 594.7 1825V2015.3Z" fill="#8a8a8a"/><path d="M196 1728.5V2015.3M190.4 2015.3H613.4" class="a"/><text transform="translate(184.8 1737.3) scale(0.875 1)" class="t" font-size="23">1.5</text><text transform="translate(184.8 1832.9) scale(0.875 1)" class="t" font-size="23">1.0</text><text transform="translate(184.8 1929) scale(0.875 1)" class="t" font-size="23">0.5</text><text transform="translate(184.8 2024.2) scale(0.875 1)" class="t" font-size="23">0.0</text><path d="M188 1728.5H196M188 1824H196M188 1920.1H196M188 2015.3H196" class="k"/><text transform="translate(253.6 2040.6) rotate(-45) scale(0.86 1)" class="x">S</text><text transform="translate(357.2 2040.6) rotate(-45) scale(0.86 1)" class="x">BZ</text><text transform="translate(461.4 2040.6) rotate(-45) scale(0.86 1)" class="x">TZ</text><text transform="translate(565.4 2040.6) rotate(-45) scale(0.86 1)" class="x">H</text><path d="M248.6 2015.3V2023.8M352.2 2015.3V2023.8M456.4 2015.3V2023.8M560.4 2015.3V2023.8" class="k"/><path d="M253.7 1724.9V1708.4Q253.7 1705.4 256.7 1705.4H455.6Q458.6 1705.4 458.6 1708.4V1724.9" class="b"/><path d="M253.7 1753V1735.4Q253.7 1732.4 256.7 1732.4H566.6Q569.6 1732.4 569.6 1735.4V1753" class="b"/><text x="329.5" y="1688.6" class="h" font-size="37.5" textLength="102.4" lengthAdjust="spacingAndGlyphs">GLUT1</text><text transform="translate(545.2 1705.8) scale(0.86 1)" class="s" font-size="52">$</text></g>
<g><path d="M745.4 2015.1V1989.9Q745.4 1987.4 747.9 1987.4H772.5Q775 1987.4 775 1989.9V2015.1Z" fill="#000"/><path d="M760.2 1988.4V1976.4M753.7 1976.4H766.7" class="e"/><path d="M784 2015.1V1978.6Q784 1976.1 786.5 1976.1H810.7Q813.2 1976.1 813.2 1978.6V2015.1Z" fill="#8a8a8a"/><path d="M798.6 1977.1V1961.8M792.1 1961.8H805.1" class="e"/><path d="M848.8 2015.1V1907.4Q848.8 1904.9 851.3 1904.9H876.3Q878.8 1904.9 878.8 1907.4V2015.1Z" fill="#000"/><path d="M863.8 1905.9V1882M857.3 1882H870.3" class="e"/><path d="M887.8 2015.1V1927.3Q887.8 1924.8 890.3 1924.8H914.5Q917 1924.8 917 1927.3V2015.1Z" fill="#8a8a8a"/><path d="M902.4 1925.8V1906.4M895.9 1906.4H908.9" class="e"/><path d="M953 2015.1V1884.9Q953 1882.4 955.5 1882.4H980.5Q983 1882.4 983 1884.9V2015.1Z" fill="#000"/><path d="M968 1883.4V1856.5M961.5 1856.5H974.5" class="e"/><path d="M991.9 2015.1V1847.8Q991.9 1845.3 994.4 1845.3H1018.7Q1021.2 1845.3 1021.2 1847.8V2015.1Z" fill="#8a8a8a"/><path d="M1006.6 1846.3V1817.5M1000.1 1817.5H1013.1" class="e"/><path d="M1056.8 2015.1V1825Q1056.8 1822.5 1059.3 1822.5H1083.9Q1086.4 1822.5 1086.4 1825V2015.1Z" fill="#000"/><path d="M1095.7 2015.1V1825Q1095.7 1822.5 1098.2 1822.5H1122.5Q1125 1822.5 1125 1825V2015.1Z" fill="#8a8a8a"/><path d="M727 1728.3V2015.1M719.9 2015.1H1143.3" class="a"/><text transform="translate(718.1 1737.1) scale(0.875 1)" class="t" font-size="23">1.5</text><text transform="translate(718.1 1832.5) scale(0.875 1)" class="t" font-size="23">1.0</text><text transform="translate(718.1 1928.8) scale(0.875 1)" class="t" font-size="23">0.5</text><text transform="translate(718.1 2024) scale(0.875 1)" class="t" font-size="23">0.0</text><path d="M720.6 1728.3H727M720.6 1823.7H727M720.6 1920H727M720.6 2015.1H727" class="k"/><text transform="translate(784.3 2040.4) rotate(-45) scale(0.86 1)" class="x">S</text><text transform="translate(887.9 2040.4) rotate(-45) scale(0.86 1)" class="x">BZ</text><text transform="translate(992.1 2040.4) rotate(-45) scale(0.86 1)" class="x">TZ</text><text transform="translate(1095.9 2040.4) rotate(-45) scale(0.86 1)" class="x">H</text><path d="M779.3 2015.1V2023.6M882.9 2015.1V2023.6M987.1 2015.1V2023.6M1090.9 2015.1V2023.6" class="k"/><path d="M773.1 1741.8V1724.9Q773.1 1721.9 776.1 1721.9H975.5Q978.5 1721.9 978.5 1724.9V1741.8" class="b"/><path d="M773.1 1769.9V1752.3Q773.1 1749.3 776.1 1749.3H1086.7Q1089.7 1749.3 1089.7 1752.3V1769.9" class="b"/><path d="M885.5 1795V1777.8Q885.5 1774.8 888.5 1774.8H1086.7Q1089.7 1774.8 1089.7 1777.8V1795" class="b"/><path d="M773.1 1824.2V1806.6Q773.1 1803.6 776.1 1803.6H866Q869 1803.6 869 1806.6V1824.2" class="b"/><path d="M887.4 1826.8V1809.2Q887.4 1806.2 890.4 1806.2H980.7Q983.7 1806.2 983.7 1809.2V1826.8" class="b"/><text x="853.8" y="1686.3" class="h" font-size="37.5" textLength="103.2" lengthAdjust="spacingAndGlyphs">GLUT4</text><text transform="translate(1066.5 1702) scale(0.86 1)" class="s" font-size="52">$</text></g>
<rect x="1314.7" y="1772" width="51.2" height="50.8" rx="4" fill="#000"/><rect x="1314.7" y="1829.5" width="51.2" height="49.8" rx="4" fill="#8a8a8a"/><text x="1394" y="1798" class="h" font-size="41" textLength="127" lengthAdjust="spacingAndGlyphs">Control</text><text x="1393.5" y="1845.2" class="h" font-size="40.5" textLength="202" lengthAdjust="spacingAndGlyphs">hCD16+Ms</text>
<text transform="translate(116 1635.5) rotate(-90) scale(1.0204 1)" class="B" font-size="59.5">Fold change in mRNA<tspan x="586.3"> Expression</tspan></text><text x="770.5" y="2167" class="B" font-size="58.5" textLength="371" lengthAdjust="spacingAndGlyphs">Tissue Region</text>
</svg>
</body>
</html>
